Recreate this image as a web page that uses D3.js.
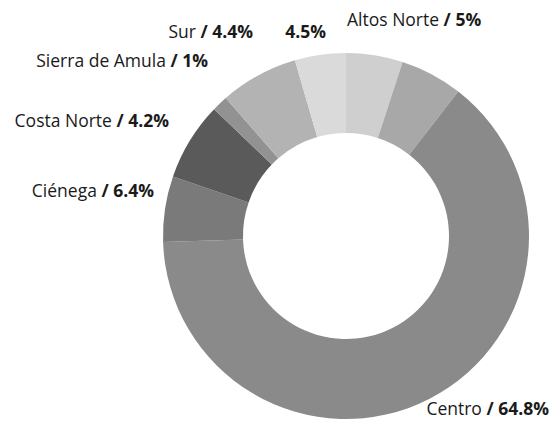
<!DOCTYPE html>
<html>
<head>
<meta charset="utf-8">
<style>
    body { margin: 0; background: #fff; }
    svg text { font-family: "Open Sans", "Noto Sans", sans-serif; font-size: 17.5px; fill: #1a1a1a; }
    svg text tspan.pct { font-weight: 700; }
</style>
</head>
<body>
<div id="target"></div>
<script src="https://cdnjs.cloudflare.com/ajax/libs/d3/7.8.5/d3.min.js"></script>
<script>
    // slices, clockwise from 12 o'clock
    var regions = ['Altos Norte', '', 'Centro', 'Ciénega', 'Costa Norte', 'Sierra de Amula', 'Sur', ''];
    // share of the ring
    var shares = [5.0, 5.5, 63.9, 5.8, 6.9, 1.4, 6.9, 4.5];
    // percentages printed in the labels
    var labelPct = ['5%', null, '64.8%', '6.4%', '4.2%', '1%', '4.4%', '4.5%'];
    var colors = ['#cfcfcf', '#a8a8a8', '#8a8a8a', '#7a7a7a', '#5a5a5a', '#929292', '#b3b3b3', '#dadada'];

    // hand placed label anchors (x, baseline y, anchor)
    var labelPos = [
        [347, 26, 'start'],
        null,
        [549, 415, 'end'],
        [154, 197, 'end'],
        [169, 127, 'end'],
        [208, 67, 'end'],
        [253, 38, 'end'],
        [326, 38, 'end']
    ];

    var width = 555, height = 424;
    var cx = 346, cy = 236, outerR = 183, innerR = 103;

    var svg = d3.select('#target')
        .append('svg')
        .attr('width', width)
        .attr('height', height);

    var gMain = svg.append('g')
        .attr('transform', 'translate(' + cx + ',' + cy + ')');

    var pie = d3.pie().sort(null).value(function (d) { return d; });
    var arc = d3.arc().innerRadius(innerR).outerRadius(outerR);

    gMain.selectAll('path.slice')
        .data(pie(shares))
        .enter()
        .append('path')
        .attr('class', 'slice')
        .attr('d', arc)
        .attr('fill', function (d, i) { return colors[i]; });

    var labels = svg.append('g').attr('class', 'labels');
    regions.forEach(function (name, i) {
        if (!labelPos[i]) return;
        var t = labels.append('text')
            .attr('x', labelPos[i][0])
            .attr('y', labelPos[i][1])
            .attr('text-anchor', labelPos[i][2]);
        if (name) {
            t.append('tspan').text(name + ' ');
            t.append('tspan').attr('class', 'pct').text('/ ' + labelPct[i]);
        } else {
            t.append('tspan').attr('class', 'pct').text(labelPct[i]);
        }
    });
</script>
</body>
</html>
